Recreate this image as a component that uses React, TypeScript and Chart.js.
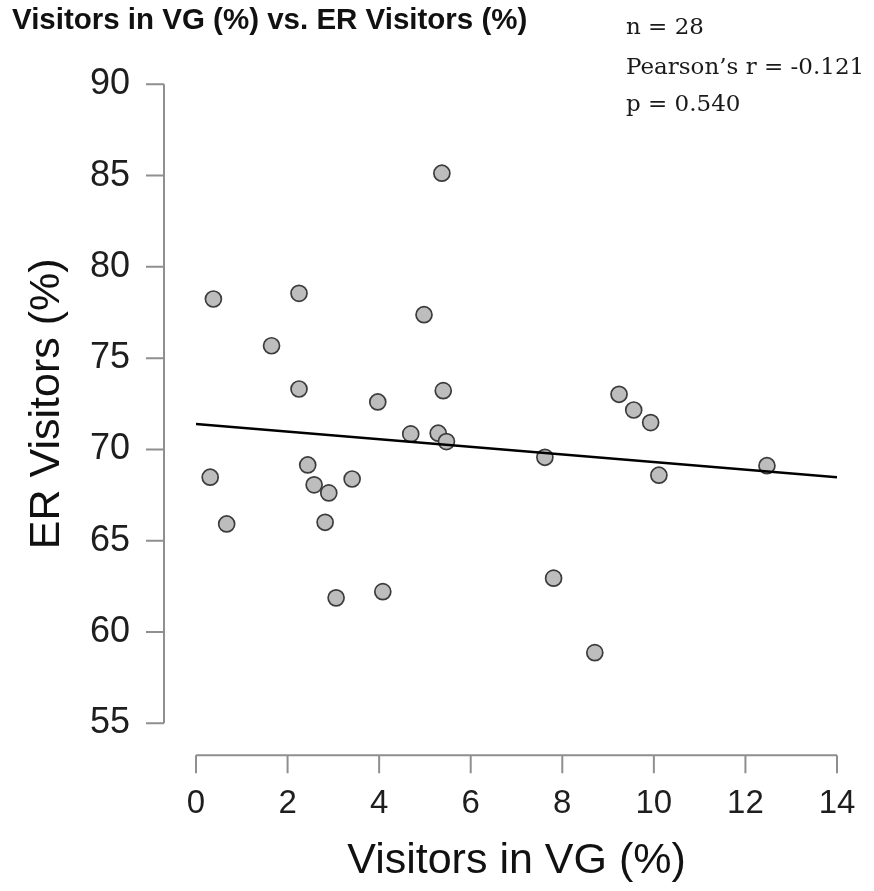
import React, { useEffect, useRef } from "react";
import { Chart, registerables } from "chart.js";

Chart.register(...registerables);

// ---- data ----
const visitorsVG = [
  5.37, 0.38, 2.25, 4.98, 1.65, 2.25, 3.97, 5.40, 4.69, 5.29, 5.47, 0.31, 0.67, 2.44,
  2.58, 2.90, 3.41, 2.82, 3.06, 4.08, 9.24, 9.56, 9.93, 7.62, 10.11, 12.47, 7.81, 8.71,
];
const erVisitors = [
  85.13, 78.24, 78.55, 77.38, 75.68, 73.31, 72.60, 73.22, 70.85, 70.89, 70.43, 68.48, 65.92, 69.15,
  68.06, 67.62, 68.38, 66.01, 61.87, 62.21, 73.02, 72.16, 71.47, 69.57, 68.59, 69.11, 62.95, 58.87,
];
const fitX = [0, 14];
const fitY = [71.39, 68.48];
const xTicks = [0, 2, 4, 6, 8, 10, 12, 14];
const yTicks = [55, 60, 65, 70, 75, 80, 85, 90];
const titleText = "Visitors in VG (%) vs. ER Visitors (%)";
const xTitle = "Visitors in VG (%)";
const yTitle = "ER Visitors (%)";
const statLines = ["n = 28", "Pearson\u2019s r = -0.121", "p = 0.540"];

const SANS = "'Liberation Sans', Arial, Helvetica, sans-serif";
const SERIF = "'DejaVu Serif', Georgia, serif";

const decorPlugin = {
  id: "decor",
  afterDraw(chart: any) {
    const { ctx, chartArea, scales } = chart;
    const xs = scales.x;
    const ys = scales.y;
    ctx.save();
    // detached axes (R style)
    ctx.strokeStyle = "#8f8f8f";
    ctx.lineWidth = 2;
    ctx.lineCap = "butt";
    const axX = chartArea.left - 32;
    const tickLen = 18;
    const yTop = ys.getPixelForValue(yTicks[yTicks.length - 1]);
    const yBot = ys.getPixelForValue(yTicks[0]);
    ctx.beginPath();
    ctx.moveTo(axX, yTop);
    ctx.lineTo(axX, yBot);
    yTicks.forEach((t) => {
      const p = ys.getPixelForValue(t);
      ctx.moveTo(axX - tickLen, p);
      ctx.lineTo(axX, p);
    });
    ctx.stroke();

    const axY = chartArea.bottom + 32;
    const xL = xs.getPixelForValue(xTicks[0]);
    const xR = xs.getPixelForValue(xTicks[xTicks.length - 1]);
    ctx.beginPath();
    ctx.moveTo(xL, axY);
    ctx.lineTo(xR, axY);
    xTicks.forEach((t) => {
      const p = xs.getPixelForValue(t);
      ctx.moveTo(p, axY);
      ctx.lineTo(p, axY + tickLen);
    });
    ctx.stroke();

    // title
    ctx.fillStyle = "#111";
    ctx.font = `bold 29.5px ${SANS}`;
    ctx.textAlign = "left";
    ctx.textBaseline = "alphabetic";
    ctx.fillText(titleText, 12, 29);

    // stats
    ctx.fillStyle = "#1a1a1a";
    ctx.font = `23px ${SERIF}`;
    const baselines = [34, 74, 111];
    statLines.forEach((s, i) => ctx.fillText(s, 626, baselines[i]));
    ctx.restore();
  },
};

export default function App() {
  const ref = useRef<HTMLCanvasElement | null>(null);
  useEffect(() => {
    if (!ref.current) return;
    const points = visitorsVG.map((v, i) => ({ x: v, y: erVisitors[i] }));
    const fit = fitX.map((v, i) => ({ x: v, y: fitY[i] }));
    const chart = new Chart(ref.current, {
      type: "scatter",
      data: {
        datasets: [
          {
            type: "line",
            label: "fit",
            data: fit,
            borderColor: "#000",
            borderWidth: 2.5,
            pointRadius: 0,
            fill: false,
            order: 0,
          } as any,
          {
            label: "points",
            data: points,
            backgroundColor: "#bdbdbd",
            borderColor: "#3c3c3c",
            borderWidth: 1.7,
            pointRadius: 8,
            order: 1,
          },
        ],
      },
      options: {
        responsive: false,
        animation: false,
        devicePixelRatio: 1,
        layout: { padding: { top: 84.3, right: 37, left: 0, bottom: 0 } },
        plugins: {
          legend: { display: false },
          tooltip: { enabled: false },
          title: { display: false },
        },
        scales: {
          x: {
            type: "linear",
            min: 0,
            max: 14,
            grid: { display: false, drawTicks: false },
            border: { display: false },
            afterBuildTicks: (s: any) => {
              s.ticks = xTicks.map((v) => ({ value: v }));
            },
            afterFit: (s: any) => {
              s.height = 891 - 723.3;
              s.paddingLeft = 0;
              s.paddingRight = 0;
              s.paddingTop = 0;
              s.paddingBottom = 0;
            },
            ticks: {
              padding: 60.5,
              color: "#1e1e1e",
              font: { family: SANS, size: 33 },
              maxRotation: 0,
              autoSkip: false,
            },
            title: {
              display: true,
              text: xTitle,
              color: "#111",
              font: { family: SANS, size: 43 },
              padding: { top: 0, bottom: 4 },
            },
          },
          y: {
            type: "linear",
            min: 55,
            max: 90,
            grid: { display: false, drawTicks: false },
            border: { display: false },
            afterBuildTicks: (s: any) => {
              s.ticks = yTicks.map((v) => ({ value: v }));
            },
            afterFit: (s: any) => {
              s.width = 196;
              s.paddingLeft = 0;
              s.paddingRight = 0;
              s.paddingTop = 0;
              s.paddingBottom = 0;
            },
            ticks: {
              padding: 66,
              color: "#1e1e1e",
              font: { family: SANS, size: 36 },
              autoSkip: false,
            },
            title: {
              display: true,
              text: yTitle,
              color: "#111",
              font: { family: SANS, size: 43 },
              padding: { top: 21, bottom: 0 },
            },
          },
        },
      },
      plugins: [decorPlugin],
    } as any);
    return () => chart.destroy();
  }, []);
  return (
    <div style={{ position: "absolute", left: 0, top: 0, width: 874, height: 891, background: "#fff" }}>
      <canvas ref={ref} width={874} height={891} style={{ display: "block" }} />
    </div>
  );
}
